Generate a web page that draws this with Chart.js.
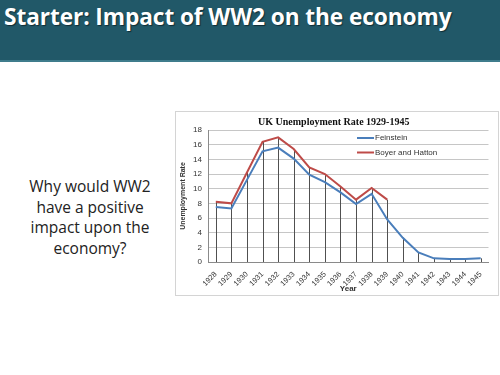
<!DOCTYPE html>
<html>
<head>
<meta charset="utf-8">
<script src="https://cdn.jsdelivr.net/npm/chart.js@4"></script>
<style>
  html, body { margin: 0; padding: 0; background: #fff; }
  body { width: 500px; height: 375px; position: relative; overflow: hidden; }
  .header {
    position: absolute; left: 0; top: 0; width: 500px; height: 60px;
    background: #215868; border-bottom: 2px solid #3f7c8c;
  }
  .header h1 {
    margin: 0; position: absolute; left: 4px; top: 1px;
    font-family: "Open Sans", sans-serif; font-weight: 700; font-size: 22.7px;
    color: #fff; letter-spacing: -0.1px; text-shadow: 1px 1px 1px rgba(0,0,0,0.5);
    white-space: nowrap;
  }
  .question {
    position: absolute; left: 27px; top: 176px; width: 126px;
    font-family: "Open Sans", sans-serif; font-size: 15.5px; line-height: 20.5px;
    text-align: center; color: #222;
  }
  .chart-box {
    position: absolute; left: 175px; top: 111px; width: 322px; height: 183px;
    border: 1px solid #d4d4d4;
  }
</style>
</head>
<body>
<div class="header"><h1>Starter: Impact of WW2 on the economy</h1></div>
<div class="question">Why would WW2 have a positive impact upon the economy?</div>
<div class="chart-box"><canvas id="unemploymentChart" width="322" height="183"></canvas></div>

<script>
//years on the x axis
const years = ["1928", "1929", "1930", "1931", "1932", "1933", "1934", "1935", "1936",
  "1937", "1938", "1939", "1940", "1941", "1942", "1943", "1944", "1945"];

//unemployment rate (%)
const feinstein = [7.5, 7.3, 11.2, 15.1, 15.6, 14.1, 11.9, 10.9, 9.5, 7.9, 9.3, 5.8, 3.3, 1.3, 0.5, 0.4, 0.4, 0.5];
const boyerHatton = [8.2, 8.0, 12.2, 16.4, 17.0, 15.4, 12.9, 12.0, 10.3, 8.5, 10.1, 8.5,
  null, null, null, null, null, null];

const yTicks = [0, 2, 4, 6, 8, 10, 12, 14, 16, 18];

const BLUE = "#4a7ebb";
const RED = "#be4b48";
const GRID = "#c6c6c6";
const AXIS = "#8a8a8a";
const TEXT = "#333";

//excel style drop lines from the highest point down to the axis
const dropLines = {
  id: "dropLines",
  beforeDatasetsDraw(chart) {
    const ctx = chart.ctx;
    const x = chart.scales.x, y = chart.scales.y;
    const base = y.getPixelForValue(0);
    ctx.save();
    ctx.strokeStyle = "#505050";
    ctx.lineWidth = 1;
    chart.data.labels.forEach((lab, i) => {
      const vals = chart.data.datasets.map(d => d.data[i]).filter(v => v != null);
      if (!vals.length) return;
      const px = Math.round(x.getPixelForValue(i)) + 0.5;
      ctx.beginPath();
      ctx.moveTo(px, y.getPixelForValue(Math.max(...vals)));
      ctx.lineTo(px, base);
      ctx.stroke();
    });
    ctx.restore();
  }
};

//legend sitting inside the plot area, top right
const insideLegend = {
  id: "insideLegend",
  afterDraw(chart) {
    const ctx = chart.ctx;
    const left = chart.chartArea.left + 149;
    let top = chart.chartArea.top + 8;
    ctx.save();
    ctx.font = "8px 'Liberation Sans', sans-serif";
    ctx.textBaseline = "middle";
    chart.data.datasets.forEach(ds => {
      ctx.strokeStyle = ds.borderColor;
      ctx.lineWidth = 2;
      ctx.beginPath();
      ctx.moveTo(left, top);
      ctx.lineTo(left + 17, top);
      ctx.stroke();
      ctx.fillStyle = TEXT;
      ctx.fillText(ds.label, left + 18, top);
      top += 14.5;
    });
    ctx.restore();
  }
};

const ctx = document.getElementById("unemploymentChart").getContext("2d");
new Chart(ctx, {
  type: "line",
  data: {
    labels: years,
    datasets: [
      { label: "Feinstein", data: feinstein, borderColor: BLUE, backgroundColor: BLUE,
        borderWidth: 2, pointRadius: 0, tension: 0 },
      { label: "Boyer and Hatton", data: boyerHatton, borderColor: RED, backgroundColor: RED,
        borderWidth: 2, pointRadius: 0, tension: 0 }
    ]
  },
  options: {
    responsive: false,
    animation: false,
    layout: { padding: { left: 3, right: 9.5, top: 0, bottom: 0 } },
    plugins: {
      legend: { display: false },
      tooltip: { enabled: false },
      title: {
        display: true,
        text: "UK Unemployment Rate 1929-1945",
        color: "#111",
        font: { family: "'Liberation Serif', serif", size: 10, weight: "bold", lineHeight: 1.2 },
        padding: { top: 4, bottom: 2 }
      }
    },
    scales: {
      x: {
        offset: true,
        grid: { display: false },
        border: { color: AXIS },
        ticks: {
          color: TEXT, maxRotation: 45, minRotation: 45, autoSkip: false, padding: 0,
          font: { family: "'Liberation Sans', sans-serif", size: 7.5 }
        },
        title: {
          display: true, text: "Year", color: TEXT, padding: { top: 0, bottom: 1 },
          font: { family: "'Liberation Sans', sans-serif", size: 8, weight: "bold" }
        },
        afterFit(scale) { scale.height = 33; }
      },
      y: {
        min: 0, max: 18,
        afterBuildTicks(scale) { scale.ticks = yTicks.map(v => ({ value: v })); },
        grid: { color: GRID, drawTicks: false },
        border: { color: AXIS },
        ticks: {
          color: TEXT, padding: 6,
          font: { family: "'Liberation Sans', sans-serif", size: 8 }
        },
        title: {
          display: true, text: "Unemployment Rate", color: TEXT, padding: 0,
          font: { family: "'Liberation Sans', sans-serif", size: 7, weight: "bold" }
        },
        afterFit(scale) { scale.width = 29; }
      }
    }
  },
  plugins: [dropLines, insideLegend]
});
</script>
</body>
</html>
